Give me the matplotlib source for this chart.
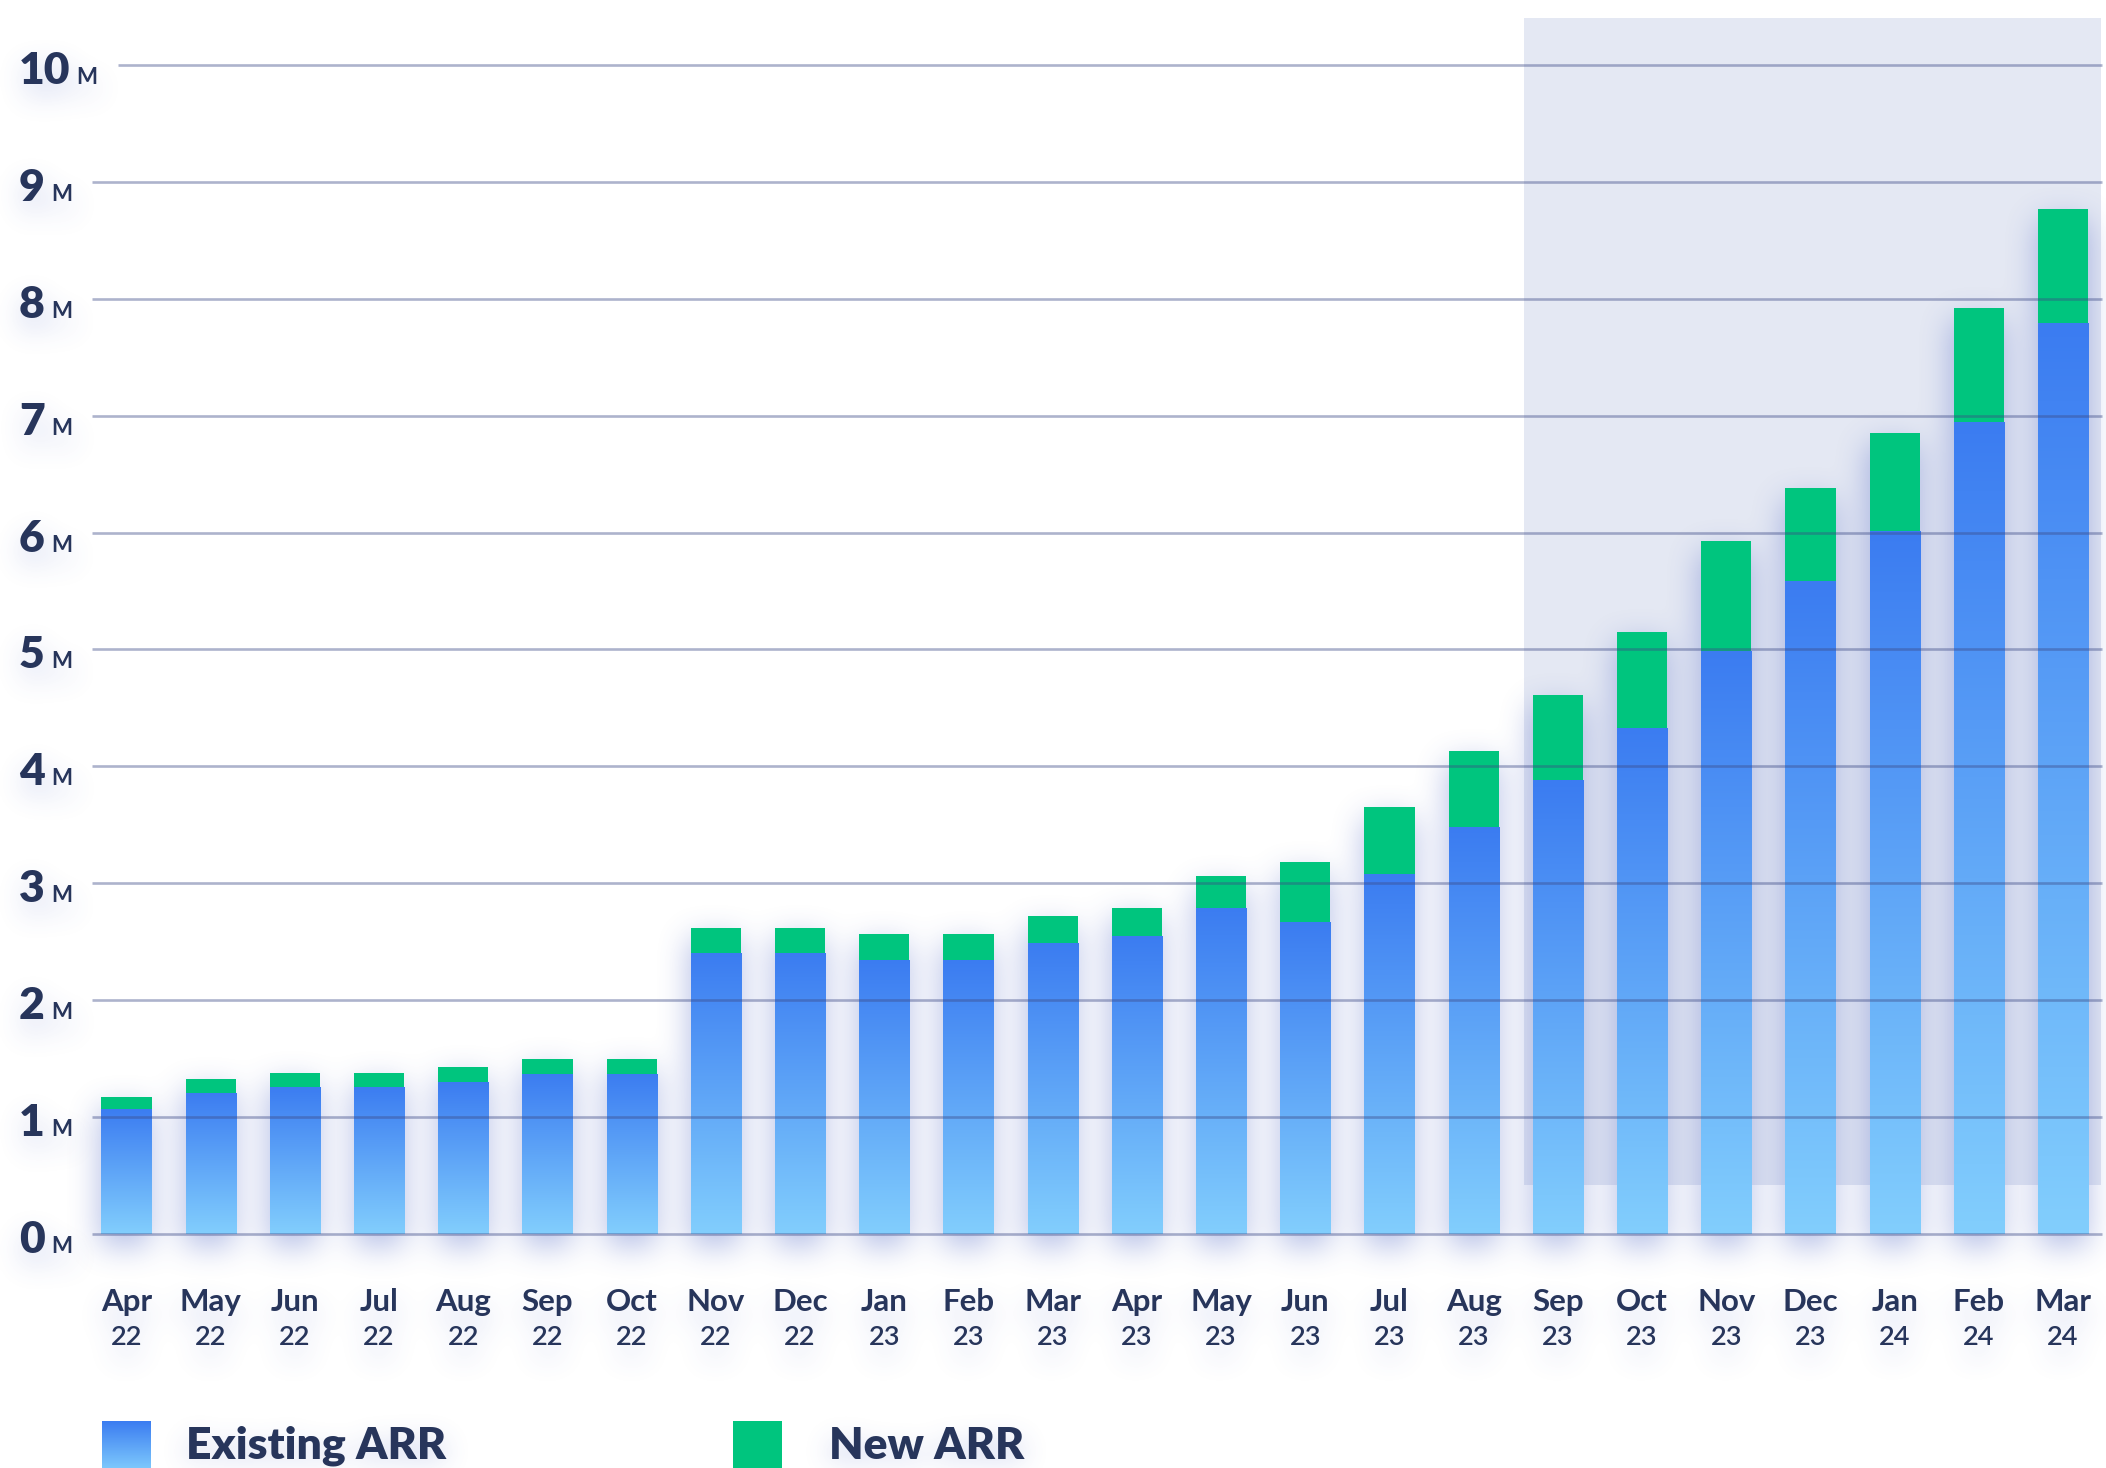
import numpy as np
import matplotlib
matplotlib.use('Agg')
import matplotlib.pyplot as plt
from matplotlib.colors import LinearSegmentedColormap, to_rgb
from matplotlib.patches import Rectangle

# --- data (ARR in millions) ---
months = ['Apr', 'May', 'Jun', 'Jul', 'Aug', 'Sep', 'Oct', 'Nov', 'Dec',
          'Jan', 'Feb', 'Mar', 'Apr', 'May', 'Jun', 'Jul', 'Aug', 'Sep', 'Oct', 'Nov', 'Dec',
          'Jan', 'Feb', 'Mar']
years = ['22'] * 9 + ['23'] * 12 + ['24'] * 3
existing_arr = [1.07, 1.21, 1.26, 1.26, 1.30, 1.37, 1.37, 2.40, 2.40, 2.34, 2.34, 2.49,
                2.55, 2.79, 2.67, 3.08, 3.48, 3.88, 4.33, 4.99, 5.59, 6.01, 6.95, 7.79]
new_arr = [0.10, 0.12, 0.12, 0.12, 0.13, 0.13, 0.13, 0.22, 0.22, 0.23, 0.23, 0.23,
           0.24, 0.27, 0.51, 0.57, 0.65, 0.73, 0.82, 0.94, 0.79, 0.84, 0.97, 0.98]
y_ticks = [0, 1, 2, 3, 4, 5, 6, 7, 8, 9, 10]
highlight_from = 'Sep 23'

# --- style ---
TEXT = '#27355b'
GREEN = '#00c57e'
BLUE_TOP = '#3b7cf1'
BLUE_BOT = '#82cefd'
SHADE = '#e4e8f3'
GRID = '#3c4a86'
SHADOW = '#4a62c4'
FONT = 'Lato'

W, H = 2106, 1468
fig = plt.figure(figsize=(W / 100, H / 100), dpi=100)
ax = fig.add_axes([0, 0, 1, 1])

# pixel -> data helpers (bar pitch 84.2 px, 1M = 116.9 px, baseline at y=1234 px)
def px2x(px):
    return (px - 126.5) / 84.2

def px2y(py):
    return (1234 - py) / 116.9

EXTENT = (px2x(0), px2x(W), px2y(H), px2y(0))
ax.set_xlim(EXTENT[0], EXTENT[1])
ax.set_ylim(EXTENT[2], EXTENT[3])
ax.axis('off')

x = np.arange(len(months))
labels = [f'{m} {y}' for m, y in zip(months, years)]
hi = labels.index(highlight_from)

# highlighted period
ax.add_patch(Rectangle((hi - 0.4, px2y(1185)), len(months) - 0.1 - (hi - 0.4) - 0.45,
                       px2y(18) - px2y(1185), facecolor=SHADE, edgecolor='none', zorder=0))

bw = 0.594
blue_bars = ax.bar(x, existing_arr, width=bw, color=BLUE_TOP, zorder=2)
green_bars = ax.bar(x, new_arr, width=bw, bottom=existing_arr, color=GREEN, zorder=2)


def blur(a, r):
    k = np.ones(2 * r + 1) / (2 * r + 1)
    for _ in range(3):
        a = np.apply_along_axis(lambda v: np.convolve(v, k, mode='same'), 0, a)
        a = np.apply_along_axis(lambda v: np.convolve(v, k, mode='same'), 1, a)
    return a


def shadow_image(mask, shift, r, alpha, z):
    moved = np.zeros_like(mask)
    moved[shift:] = mask[:-shift]
    s = blur(moved, r)
    img = np.zeros(s.shape + (4,))
    img[..., :3] = to_rgb(SHADOW)
    img[..., 3] = np.clip(s, 0, 1) * alpha
    ax.imshow(img, extent=EXTENT, origin='upper', aspect='auto', zorder=z,
              interpolation='bilinear')


# soft shadow around the bars
fig.canvas.draw()
step = 2
mask = np.zeros((H // step, W // step))
for p in list(blue_bars) + list(green_bars):
    bb = p.get_window_extent()
    c0, c1 = int(bb.x0 / step), int(bb.x1 / step)
    r0, r1 = int((H - bb.y1) / step), int((H - bb.y0) / step)
    mask[r0:r1, c0:c1] = 1.0
shadow_image(mask, 6, 7, 0.42, 1)

# vertical gradient on the existing ARR bars
blue_cmap = LinearSegmentedColormap.from_list('arr', [BLUE_BOT, BLUE_TOP])
grad = np.linspace(0, 1, 256).reshape(-1, 1)
for p in blue_bars:
    x0, y0 = p.get_xy()
    im = ax.imshow(grad, extent=(x0, x0 + p.get_width(), y0, y0 + p.get_height()),
                   origin='lower', cmap=blue_cmap, aspect='auto', zorder=2.5)
    im.set_clip_path(p)

texts = []

# y labels ("10" + small "M") and gridlines starting after them
fig.canvas.draw()
renderer = fig.canvas.get_renderer()
inv = ax.transData.inverted()
for v in y_ticks:
    base = v - 19 / 116.9
    t = ax.text(px2x(19), base, str(v), fontsize=32, fontweight='heavy', family=FONT,
                color=TEXT, va='baseline', ha='left', zorder=5)
    bb = t.get_window_extent(renderer)
    mx = inv.transform((bb.x1 + 6, 0))[0]
    m = ax.text(mx, base, 'M', fontsize=16, fontweight='bold', family=FONT,
                color=TEXT, va='baseline', ha='left', zorder=5)
    mb = m.get_window_extent(renderer)
    gx = inv.transform((mb.x1 + 20, 0))[0]
    ax.hlines(v, gx, px2x(W - 4), color=GRID, alpha=0.42, lw=1.9, zorder=4)
    texts += [t, m]

# x labels
for i in x:
    texts.append(ax.text(i, px2y(1311), months[i], fontsize=22.5, fontweight='bold',
                         family=FONT, color=TEXT, ha='center', va='baseline', zorder=5))
    texts.append(ax.text(i, px2y(1345), years[i], fontsize=19.5, fontweight='semibold',
                         family=FONT, color=TEXT, ha='center', va='baseline', zorder=5))

# legend
sq_top, sq_bot = px2y(1421), px2y(1472)
ax.imshow(grad, extent=(px2x(102), px2x(151), sq_bot, sq_top), origin='lower',
          cmap=blue_cmap, aspect='auto', zorder=5)
ax.add_patch(Rectangle((px2x(733), sq_bot), px2x(782) - px2x(733), sq_top - sq_bot,
                       facecolor=GREEN, edgecolor='none', zorder=5))
texts.append(ax.text(px2x(186), px2y(1459), 'Existing ARR', fontsize=32, fontweight='heavy',
                     family=FONT, color=TEXT, ha='left', va='baseline', zorder=5))
texts.append(ax.text(px2x(829), px2y(1459), 'New ARR', fontsize=32, fontweight='heavy',
                     family=FONT, color=TEXT, ha='left', va='baseline', zorder=5))

# blurred drop shadow under the labels: render text only, then blur it
others = [a for a in ax.get_children() if a not in texts]
state = [a.get_visible() for a in others]
for a in others:
    a.set_visible(False)
fig.canvas.draw()
buf = np.asarray(fig.canvas.buffer_rgba())[::step, ::step, 0].astype(float)
for a, s in zip(others, state):
    a.set_visible(s)
tmask = 1.0 - buf[:H // step, :W // step] / 255.0
shadow_image(tmask, 6, 6, 0.35, 4.8)

ax.set_xlim(EXTENT[0], EXTENT[1])
ax.set_ylim(EXTENT[2], EXTENT[3])
fig.savefig('out.png', dpi=100, facecolor='white')
